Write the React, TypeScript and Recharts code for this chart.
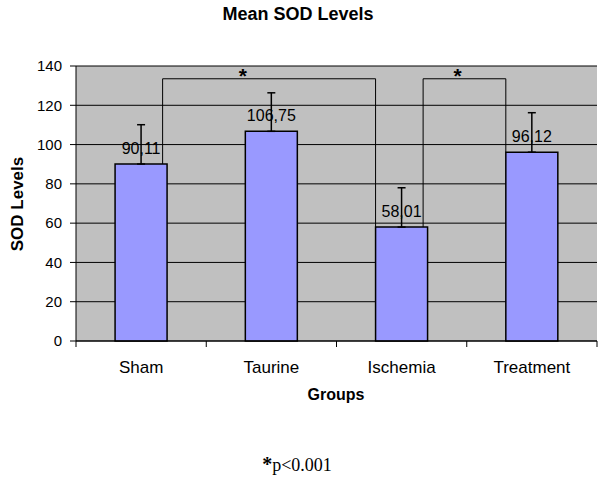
import {
  Bar,
  BarChart,
  CartesianGrid,
  ErrorBar,
  LabelList,
  ReferenceDot,
  ReferenceLine,
  XAxis,
  YAxis,
} from "recharts";

const groups = ["Sham", "Taurine", "Ischemia", "Treatment"];
const means = [90.11, 106.75, 58.01, 96.12];
const upperError = [20, 19.6, 20, 20.1];
const yTicks = [0, 20, 40, 60, 80, 100, 120, 140];

// significance brackets, in category units (0..4 across the x axis)
const bracketFrom = [0, 2];
const bracketTo = [2, 3];
const bracketLevel = [133.5, 133.5];
const starAt = [1.28, 2.93];

const W = 600;
const H = 479;
const PLOT_LEFT = 76;
const PLOT_RIGHT = 3;
const BAND = (W - PLOT_LEFT - PLOT_RIGHT) / groups.length;
const sans = "'Liberation Sans', Arial, sans-serif";

const data = groups.map((g, i) => ({
  group: g,
  idx: i + 0.5,
  mean: means[i],
  err: [0, upperError[i]],
}));

function GroupTick({ x, y, payload, index }: any) {
  const half = BAND / 2;
  return (
    <g>
      <line x1={x - half} y1={y} x2={x - half} y2={y + 6} stroke="#000" />
      {index === groups.length - 1 && (
        <line x1={x + half} y1={y} x2={x + half} y2={y + 6} stroke="#000" />
      )}
      <text x={x} y={y + 32} textAnchor="middle" fontSize={17} fontFamily={sans} fill="#000">
        {payload.value}
      </text>
    </g>
  );
}

export default function App() {
  return (
    <div style={{ position: "absolute", left: 0, top: 0, width: W, height: H, background: "#fff" }}>
      <div
        style={{
          position: "absolute",
          left: 298,
          top: 14,
          transform: "translate(-50%, -50%)",
          fontFamily: sans,
          fontWeight: "bold",
          fontSize: 18,
          whiteSpace: "nowrap",
        }}
      >
        Mean SOD Levels
      </div>
      <div
        style={{
          position: "absolute",
          left: 18,
          top: 204,
          transform: "translate(-50%, -50%) rotate(-90deg)",
          fontFamily: sans,
          fontWeight: "bold",
          fontSize: 17,
          whiteSpace: "nowrap",
        }}
      >
        SOD Levels
      </div>
      <div
        style={{
          position: "absolute",
          left: 336,
          top: 395,
          transform: "translate(-50%, -50%)",
          fontFamily: sans,
          fontWeight: "bold",
          fontSize: 16,
        }}
      >
        Groups
      </div>
      <div
        style={{
          position: "absolute",
          left: 297,
          top: 464,
          transform: "translate(-50%, -50%)",
          fontFamily: "'Liberation Serif', 'Times New Roman', serif",
          fontSize: 18,
          whiteSpace: "nowrap",
        }}
      >
        <span style={{ fontWeight: "bold", fontSize: 20 }}>*</span>p&lt;0.001
      </div>

      <BarChart
        width={W}
        height={H}
        data={data}
        barCategoryGap="30%"
        margin={{ top: 66, right: PLOT_RIGHT, bottom: 108, left: PLOT_LEFT - 60 }}
      >
        <CartesianGrid vertical={false} stroke="#000" fill="#c0c0c0" fillOpacity={1} />
        <XAxis
          dataKey="group"
          height={30}
          stroke="#000"
          tickLine={false}
          tickSize={0}
          tickMargin={0}
          tick={<GroupTick />}
          interval={0}
        />
        <XAxis
          xAxisId="pos"
          dataKey="idx"
          type="number"
          domain={[0, groups.length]}
          hide
          allowDataOverflow
        />
        <YAxis
          width={60}
          domain={[0, 140]}
          ticks={yTicks}
          interval={0}
          stroke="#000"
          tickSize={6}
          tickMargin={8}
          tick={{ fontSize: 15, fontFamily: sans, fill: "#000" }}
        />
        <Bar
          dataKey="mean"
          fill="#9999ff"
          stroke="#000"
          strokeWidth={1.5}
          isAnimationActive={false}
        >
          <LabelList
            dataKey="mean"
            position="top"
            offset={10}
            formatter={(v: number) => v.toFixed(2).replace(".", ",")}
            fontSize={16}
            fontFamily={sans}
            fill="#000"
          />
          <ErrorBar dataKey="err" width={4} stroke="#000" strokeWidth={1.5} direction="y" />
        </Bar>
        {bracketFrom.map((from, i) => {
          const x1 = from + 0.5 + 0.165;
          const x2 = bracketTo[i] + 0.5 - 0.2;
          const lvl = bracketLevel[i];
          return [
            <ReferenceLine
              key={`h${i}`}
              xAxisId="pos"
              segment={[
                { x: x1, y: lvl },
                { x: x2, y: lvl },
              ]}
              stroke="#000"
            />,
            <ReferenceLine
              key={`l${i}`}
              xAxisId="pos"
              segment={[
                { x: x1, y: lvl },
                { x: x1, y: means[from] },
              ]}
              stroke="#000"
            />,
            <ReferenceLine
              key={`r${i}`}
              xAxisId="pos"
              segment={[
                { x: x2, y: lvl },
                { x: x2, y: means[bracketTo[i]] },
              ]}
              stroke="#000"
            />,
            <ReferenceDot
              key={`s${i}`}
              xAxisId="pos"
              x={starAt[i]}
              y={lvl}
              r={0}
              stroke="none"
              label={{ value: "*", position: "top", offset: -4, fontSize: 21, fontWeight: "bold", fill: "#000", fontFamily: sans }}
            />,
          ];
        })}
      </BarChart>
    </div>
  );
}
